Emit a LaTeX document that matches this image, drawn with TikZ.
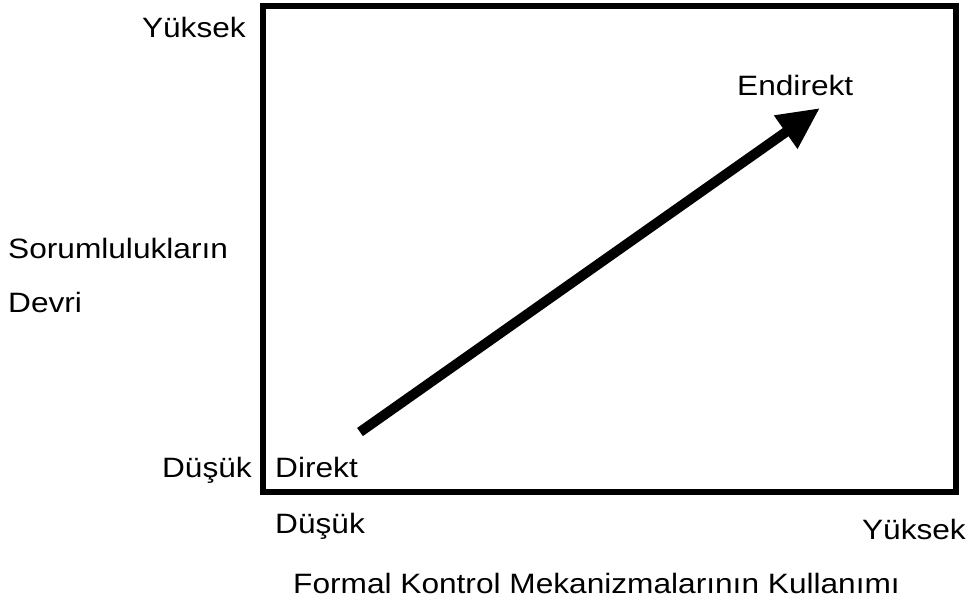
\documentclass[tikz,border=0pt]{standalone}
\usepackage{fontspec}
\setmainfont{Liberation Sans}[FakeStretch=1.13]
\usetikzlibrary{arrows.meta}
\begin{document}
\begin{tikzpicture}[x=1pt,y=-1pt,
  lbl/.style={inner sep=0pt, font=\fontsize{28}{32}\selectfont},
  frame/.style={line width=5.5pt, line join=miter},
  bigarrow/.style={line width=10pt, -{Triangle[length=42pt,width=38pt]}}]
\useasboundingbox (0,0) rectangle (971,606);
\fill[white] (0,0) rectangle (971,606);
\draw[frame] (263,6) rectangle (956,492);
\node[lbl, anchor=base east] (yh) at (246,37) {Yüksek};
\node[lbl, anchor=base west] (s1) at (8,258) {Sorumlulukların};
\node[lbl, anchor=base west] (s2) at (8,312) {Devri};
\node[lbl, anchor=base east] (yl) at (252,477) {Düşük};
\node[lbl, anchor=base west] (dir) at (275,477) {Direkt};
\node[lbl, anchor=base west] (xl) at (275,533) {Düşük};
\node[lbl, anchor=base east] (xh) at (966,539) {Yüksek};
\node[lbl, anchor=base west] (end) at (737,95) {Endirekt};
\node[lbl, anchor=base west] (xt) at (293,593) {Formal Kontrol Mekanizmalarının Kullanımı};
\coordinate (s) at (360,432);
\coordinate (t) at (820,108);
\draw[bigarrow] (s) -- (t);
\end{tikzpicture}
\end{document}
